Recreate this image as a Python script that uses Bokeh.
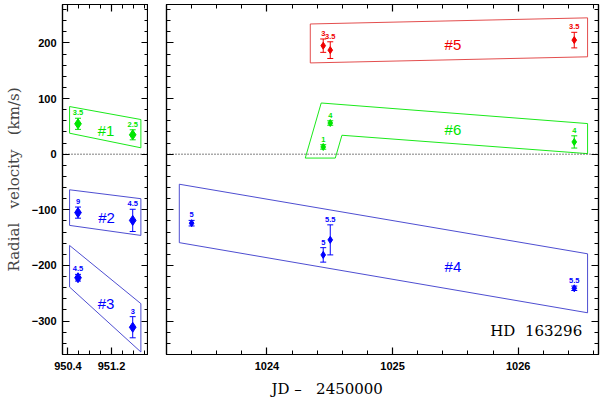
from bokeh.plotting import figure
from bokeh.layouts import row
from bokeh.models import (FixedTicker, LinearAxis, Span, Whisker, TeeHead, ColumnDataSource,
                          Label, Title)
from bokeh.core.properties import value
from bokeh.embed import file_html
from bokeh.resources import INLINE

# ---------------- data ----------------
# left panel (JD - 2450000 ~ 950-952)
b1_x = [950.585, 951.59]
b1_v = [54.6, 34.8]
b1_e = [10, 9]
b1_lab = ["3.5", "2.5"]

b2_x = [950.585, 951.59]
b2_v = [-105, -119]
b2_e = [10, 20]
b2_lab = ["9", "4.5"]

b3_x = [950.585, 951.59]
b3_v = [-222, -311]
b3_e = [6, 19]
b3_lab = ["4.5", "3"]

# right panel (JD - 2450000 ~ 1023-1027)
b4_x = [1023.40, 1024.448, 1024.504, 1026.447]
b4_v = [-124, -181, -154, -241]
b4_e = [5, 13, 27, 4]
b4_lab = ["5", "5", "5.5", "5.5"]

b5_x = [1024.448, 1024.504, 1026.447]
b5_v = [195, 187, 205]
b5_e = [12, 15, 14]
b5_lab = ["3", "3.5", "3.5"]

b6_x = [1024.448, 1024.504, 1026.447]
b6_v = [13, 56, 22]
b6_e = [4, 4, 11]
b6_lab = ["1", "4", "4"]

# box outlines (data coordinates)
box1_x = [950.43, 951.74, 951.74, 950.43]
box1_y = [85.6, 62.3, 11.5, 37.7]
box2_x = [950.43, 951.74, 951.74, 950.43]
box2_y = [-64, -80, -146, -128]
box3_x = [950.43, 951.74, 951.74, 950.43]
box3_y = [-164, -268.6, -355.5, -238.8]
box4_x = [1023.302, 1026.553, 1026.553, 1023.302]
box4_y = [-54, -179, -285, -159]
box5_x = [1024.345, 1026.553, 1026.553, 1024.345]
box5_y = [234, 245, 175, 164]
box6_x = [1024.305, 1024.432, 1026.553, 1026.553, 1024.597, 1024.544]
box6_y = [-7, 92, 55, 1, 34, -7]

# box names and anchor points
left_names = ["#1", "#2", "#3"]
left_name_x = [951.10, 951.11, 951.10]
left_name_y = [41.7, -114.5, -268.6]
right_names = ["#4", "#5", "#6"]
right_name_x = [1025.481, 1025.481, 1025.481]
right_name_y = [-201.3, 197.5, 44.0]

# ticks
xL_major = [950.4, 951.2]
xL_minor = [950.4, 950.6, 950.8, 951.0, 951.2, 951.4, 951.6, 951.8]
xR_major = [1024, 1025, 1026]
xR_minor = [1023.2, 1023.4, 1023.6, 1023.8, 1024.0, 1024.2, 1024.4, 1024.6, 1024.8,
            1025.0, 1025.2, 1025.4, 1025.6, 1025.8, 1026.0, 1026.2, 1026.4, 1026.6]
y_major = [-300, -200, -100, 0, 100, 200]
y_labels = ["\u2212300", "\u2212200", "\u2212100", "0", "100", "200"]
y_minor = [-340, -320, -300, -280, -260, -240, -220, -200, -180, -160, -140, -120, -100,
           -80, -60, -40, -20, 0, 20, 40, 60, 80, 100, 120, 140, 160, 180, 200, 220, 240, 260]

GREEN = "#00e600"
BLUE = "#0000ff"
BLUE_LINE = "#3a3acc"
RED = "#f00000"
RED_LINE = "#e03a3a"


def style_axis(ax, labels=True):
    ax.axis_line_color = "black"
    ax.axis_line_width = 1.2
    ax.major_tick_in = 7
    ax.major_tick_out = 0
    ax.minor_tick_in = 4
    ax.minor_tick_out = 0
    ax.major_tick_line_color = "black"
    ax.major_tick_line_width = 1.2
    ax.minor_tick_line_color = "black"
    ax.minor_tick_line_width = 1
    ax.major_label_text_font = "Liberation Sans"
    ax.major_label_text_font_style = "bold"
    ax.major_label_text_font_size = "11px"
    ax.major_label_text_color = "black"
    ax.major_label_standoff = 7
    if not labels:
        ax.major_label_text_font_size = "0px"
        ax.major_label_text_color = None
        ax.major_label_standoff = 0


def make_fig(xr, w, bl, br):
    p = figure(frame_width=w, frame_height=350, x_range=xr, y_range=(-360, 269),
               min_border_left=bl, min_border_right=br, min_border_top=4, min_border_bottom=43,
               output_backend="svg", toolbar_location=None)
    p.xgrid.visible = False
    p.ygrid.visible = False
    p.outline_line_color = "black"
    p.outline_line_width = 1.2
    p.background_fill_color = "white"
    p.border_fill_color = "white"
    p.add_layout(Span(location=0, dimension="width", line_color="black",
                      line_dash="1 2", line_width=1))
    return p


def add_group(p, xs, vs, es, labs, color, size, marker="diamond"):
    src = ColumnDataSource(dict(x=xs, v=vs, lo=[v - e for v, e in zip(vs, es)],
                                hi=[v + e for v, e in zip(vs, es)], lab=labs))
    p.add_layout(Whisker(source=src, base="x", lower="lo", upper="hi",
                         line_color=color, line_width=1,
                         upper_head=TeeHead(size=6, line_color=color, line_width=1),
                         lower_head=TeeHead(size=6, line_color=color, line_width=1)))
    p.scatter("x", "v", source=src, marker=marker, size=size, fill_color=color,
              line_color=color)
    p.text("x", "hi", text="lab", source=src, text_align="center", text_baseline="bottom",
           y_offset=-3, text_font_size=value("7.5px"), text_font_style="bold",
           text_color=color, text_font=value("Liberation Sans"))


def add_box(p, xs, ys, color):
    p.patch(xs, ys, fill_alpha=0, line_color=color, line_width=0.9)


# ---------------- left panel ----------------
pL = make_fig((950.3, 951.88), 86, 62, 0)
pL.xaxis.ticker = FixedTicker(ticks=xL_major, minor_ticks=xL_minor)
pL.yaxis.ticker = FixedTicker(ticks=y_major, minor_ticks=y_minor)
pL.yaxis.major_label_overrides = {v: s for v, s in zip(y_major, y_labels)}
style_axis(pL.xaxis[0])
style_axis(pL.yaxis[0])
pL.yaxis.major_label_standoff = 6
pL.yaxis.axis_label = "Radial\u00a0\u00a0 velocity\u00a0\u00a0 (km/s)"
pL.yaxis.axis_label_text_font = "DejaVu Serif"
pL.yaxis.axis_label_text_font_style = "normal"
pL.yaxis.axis_label_text_font_size = "15px"
pL.yaxis.axis_label_text_line_height = 0.8
pL.yaxis.axis_label_standoff = 6
topL = LinearAxis(ticker=FixedTicker(ticks=xL_major, minor_ticks=xL_minor))
style_axis(topL, labels=False)
pL.add_layout(topL, "above")
rightL = LinearAxis(ticker=FixedTicker(ticks=y_major, minor_ticks=y_minor))
style_axis(rightL, labels=False)
pL.add_layout(rightL, "right")

add_box(pL, box1_x, box1_y, GREEN)
add_box(pL, box2_x, box2_y, BLUE_LINE)
add_box(pL, box3_x, box3_y, BLUE_LINE)
add_group(pL, b1_x, b1_v, b1_e, b1_lab, GREEN, 10)
add_group(pL, b2_x, b2_v, b2_e, b2_lab, BLUE, 10)
add_group(pL, b3_x, b3_v, b3_e, b3_lab, BLUE, 10)
for name, x, y, c in zip(left_names, left_name_x, left_name_y, [GREEN, BLUE, BLUE]):
    pL.add_layout(Label(x=x, y=y, text=name, text_align="center", text_baseline="middle",
                        text_font="Liberation Sans", text_font_size="15px", text_color=c))

# ---------------- right panel ----------------
pR = make_fig((1023.2, 1026.64), 432, 18, 2)
pR.xaxis.ticker = FixedTicker(ticks=xR_major, minor_ticks=xR_minor)
pR.yaxis.ticker = FixedTicker(ticks=y_major, minor_ticks=y_minor)
style_axis(pR.xaxis[0])
style_axis(pR.yaxis[0], labels=False)
topR = LinearAxis(ticker=FixedTicker(ticks=xR_major, minor_ticks=xR_minor))
style_axis(topR, labels=False)
pR.add_layout(topR, "above")
rightR = LinearAxis(ticker=FixedTicker(ticks=y_major, minor_ticks=y_minor))
style_axis(rightR, labels=False)
pR.add_layout(rightR, "right")

add_box(pR, box4_x, box4_y, BLUE_LINE)
add_box(pR, box5_x, box5_y, RED_LINE)
add_box(pR, box6_x, box6_y, GREEN)
add_group(pR, b4_x, b4_v, b4_e, b4_lab, BLUE, 7)
add_group(pR, b5_x, b5_v, b5_e, b5_lab, RED, 7)
add_group(pR, b6_x, b6_v, b6_e, b6_lab, GREEN, 7)
for name, x, y, c in zip(right_names, right_name_x, right_name_y, [BLUE, RED, GREEN]):
    pR.add_layout(Label(x=x, y=y, text=name, text_align="center", text_baseline="middle",
                        text_font="Liberation Sans", text_font_size="15px", text_color=c))

pR.add_layout(Label(x=1026.51, y=-318, text="HD\u00a0 163296", text_align="right",
                    text_baseline="middle", text_font="DejaVu Serif", text_font_size="15px",
                    text_color="black"))
# shared x-axis title, centred under both panels
pR.add_layout(Title(text="JD \u2013\u00a0\u00a0 2450000", align="left", offset=105,
                    standoff=10, text_font="DejaVu Serif", text_font_size="15px",
                    text_font_style="normal", text_color="black"), "below")

layout = row(pL, pR)
open("out.html", "w").write(file_html(layout, INLINE))
